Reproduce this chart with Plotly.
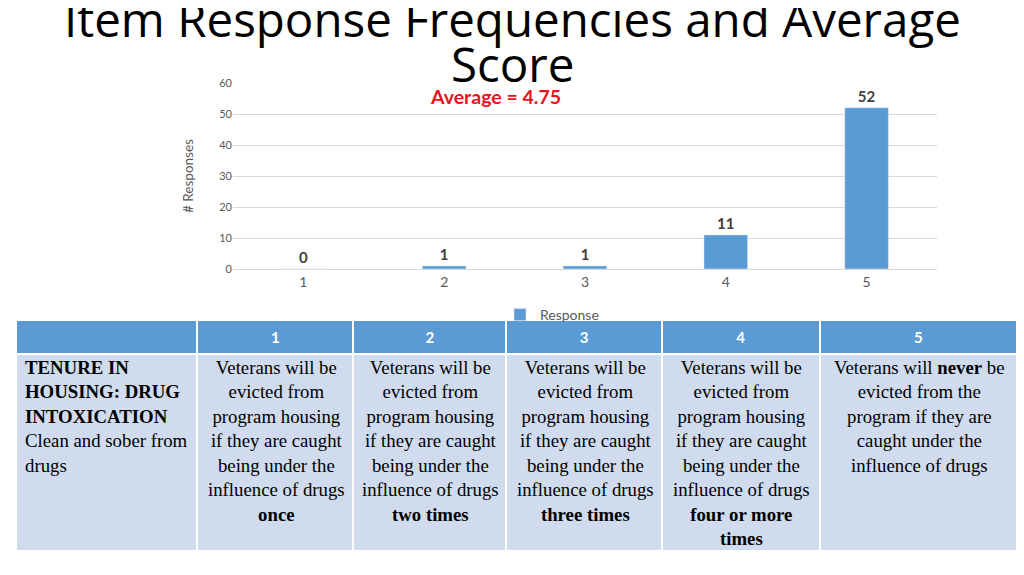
import plotly.graph_objects as go

# ---- data ----
categories = [1, 2, 3, 4, 5]
counts = [0, 1, 1, 11, 52]
series_name = "Response"
y_ticks = [0, 10, 20, 30, 40, 50, 60]

title_line1 = "Item Response Frequencies and Average"
title_line2 = "Score"
y_title = "# Responses"

header_labels = ["", "1", "2", "3", "4", "5"]
item_lines = ["<b>TENURE IN</b>", "<b>HOUSING: DRUG</b>", "<b>INTOXICATION</b>",
              "Clean and sober from", "drugs"]
desc_1 = ["Veterans will be", "evicted from", "program housing", "if they are caught",
          "being under the", "influence of drugs", "<b>once</b>"]
desc_2 = ["Veterans will be", "evicted from", "program housing", "if they are caught",
          "being under the", "influence of drugs", "<b>two times</b>"]
desc_3 = ["Veterans will be", "evicted from", "program housing", "if they are caught",
          "being under the", "influence of drugs", "<b>three times</b>"]
desc_4 = ["Veterans will be", "evicted from", "program housing", "if they are caught",
          "being under the", "influence of drugs", "<b>four or more</b>", "<b>times</b>"]
desc_5 = ["Veterans will <b>never</b> be", "evicted from the", "program if they are",
          "caught under the", "influence of drugs"]
column_widths = [181, 156, 153, 155, 158, 197]

# average score computed from the frequencies
average = sum(c * n for c, n in zip(categories, counts)) / sum(counts)

W, H = 1024, 575
PAGE_OFF = 8  # default body margin of the page

def px_x(x):
    return (x - PAGE_OFF) / W

def px_y(y):
    return (H - (y - PAGE_OFF)) / H

BLUE = "#5b9bd5"
BODY = "#d0dcee"
GREY = "#595959"

fig = go.Figure()

fig.add_trace(go.Bar(
    x=categories, y=counts, name=series_name,
    marker_color=BLUE, width=0.31,
    texttemplate="<b>%{y}</b>", textposition="outside",
    textfont=dict(family="Lato", size=15, color="#404040"),
    cliponaxis=False, showlegend=True,
))

# table grid (header + body cells); body text placed per column below
tbl_left, tbl_right, tbl_top, tbl_bottom = 16, 1017, 320, 552
header_h = 30
body_h = 197
fig.add_trace(go.Table(
    domain=dict(x=[px_x(tbl_left), px_x(tbl_right)], y=[px_y(tbl_bottom), px_y(tbl_top)]),
    columnwidth=column_widths,
    header=dict(
        values=[f"<b>{h}</b>" if h else "" for h in header_labels],
        fill_color=BLUE,
        line=dict(color="white", width=2),
        align="center",
        height=header_h,
        font=dict(family="Lato", size=15, color="white"),
    ),
    cells=dict(
        values=[[""] for _ in header_labels],
        fill_color=BODY,
        line=dict(color="white", width=2),
        height=body_h,
    ),
))

# body text of each column, every line centred (first column left aligned)
columns = [item_lines, desc_1, desc_2, desc_3, desc_4, desc_5]
total_w = sum(column_widths)
span = tbl_right - tbl_left
annotations = []
x_acc = tbl_left + 1
text_top = 355
for i, (lines, w) in enumerate(zip(columns, column_widths)):
    col_w = w * span / total_w
    if i == 0:
        ax, anchor, align = x_acc + 6, "left", "left"
    else:
        ax, anchor, align = x_acc + col_w / 2, "center", "center"
    annotations.append(dict(
        text="<br>".join(lines), x=px_x(ax), y=px_y(text_top),
        xref="paper", yref="paper", xanchor=anchor, yanchor="top", align=align,
        showarrow=False,
        font=dict(family="Liberation Serif", size=18.8, color="black"),
    ))
    x_acc += col_w

annotations += [
    dict(text=title_line1, x=px_x(512), y=px_y(18), xref="paper", yref="paper",
         xanchor="center", yanchor="middle", showarrow=False,
         font=dict(family="Open Sans", size=47.5, color="black")),
    dict(text=title_line2, x=px_x(512), y=px_y(64), xref="paper", yref="paper",
         xanchor="center", yanchor="middle", showarrow=False,
         font=dict(family="Open Sans", size=47.5, color="black")),
    dict(text=f"<b>Average = {average:.2f}</b>", x=px_x(495), y=px_y(96),
         xref="paper", yref="paper", xanchor="center", yanchor="middle",
         showarrow=False,
         font=dict(family="Lato", size=19.5, color="#e8141c")),
]

fig.update_layout(
    width=W, height=H,
    margin=dict(l=0, r=0, t=0, b=0),
    paper_bgcolor="white", plot_bgcolor="white",
    xaxis=dict(
        domain=[px_x(233), px_x(937)],
        range=[0.5, 5.5], tickvals=categories,
        ticktext=[str(c) for c in categories],
        tickfont=dict(family="Lato", size=14, color=GREY),
        ticklabelstandoff=3,
        showgrid=False, showline=False, zeroline=False, ticks="",
    ),
    yaxis=dict(
        domain=[px_y(269), px_y(83)],
        range=[0, 60], tickvals=y_ticks,
        tickfont=dict(family="Lato", size=11, color=GREY),
        gridcolor="#d9d9d9", gridwidth=1,
        zeroline=True, zerolinecolor="#d9d9d9", zerolinewidth=1,
        showline=False, ticks="", automargin=False,
        title=dict(text=y_title, font=dict(family="Lato", size=13.5, color=GREY),
                   standoff=22),
    ),
    legend=dict(
        x=px_x(500), xanchor="left", y=px_y(315), yanchor="middle",
        orientation="h", bgcolor="rgba(0,0,0,0)", itemwidth=30,
        font=dict(family="Lato", size=14, color=GREY),
    ),
    annotations=annotations,
)

fig.write_html("out.html")
